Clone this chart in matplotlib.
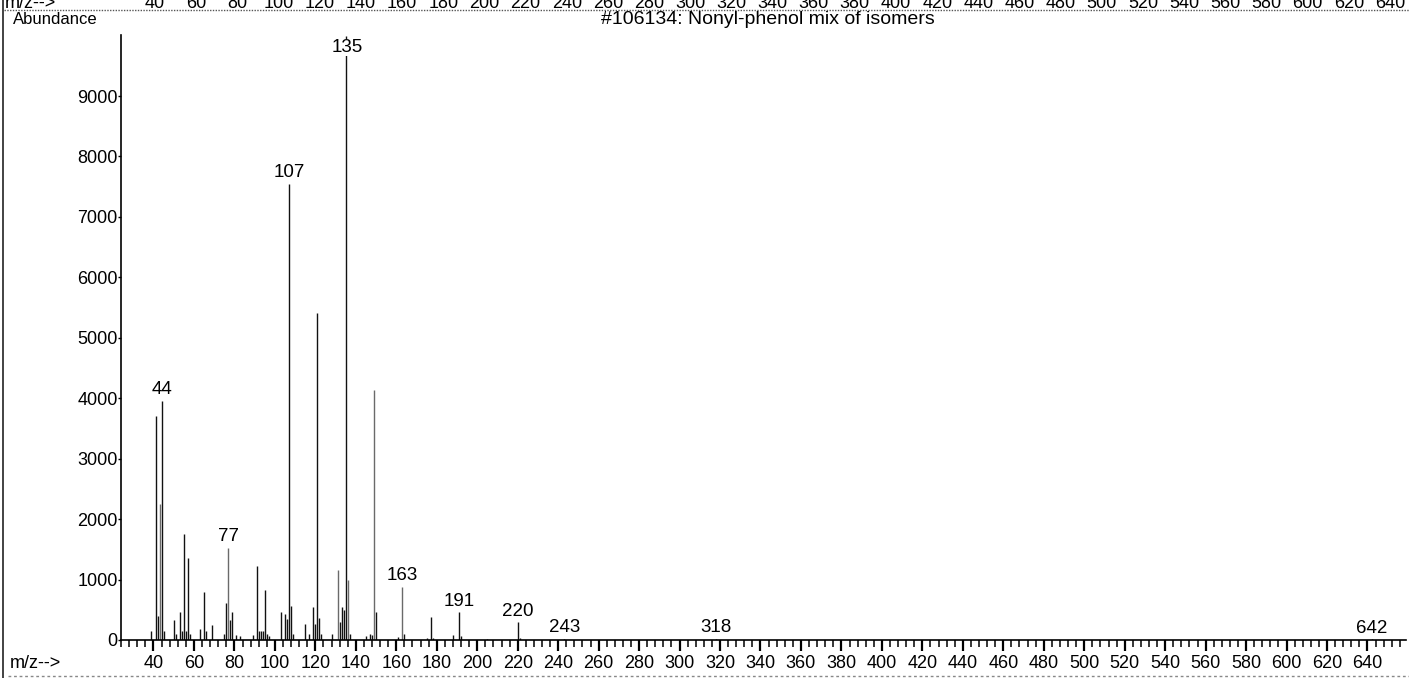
import matplotlib
matplotlib.use('Agg')
import matplotlib.pyplot as plt
from matplotlib.ticker import MultipleLocator, FixedLocator

plt.rcParams['font.family'] = ['Liberation Sans', 'DejaVu Sans']

# ---------------- data ----------------
title = "#106134: Nonyl-phenol mix of isomers"
y_label = "Abundance"
x_label = "m/z-->"

mz = [39, 41, 42, 43, 44, 45, 50, 51, 53, 54, 55, 56, 57, 58, 63, 65, 66, 69,
      75, 76, 77, 78, 79, 81, 83, 89, 91, 92, 93, 94, 95, 96, 97, 103, 105,
      106, 107, 108, 109, 115, 117, 119, 120, 121, 122, 123, 128, 131, 132,
      133, 134, 135, 136, 137, 145, 147, 148, 149, 150, 161, 163, 164, 175,
      177, 178, 188, 191, 192, 205, 220, 221, 243, 318, 642]
abundance = [150, 3700, 400, 2250, 3960, 150, 330, 100, 460, 150, 1750, 150,
             1350, 100, 190, 790, 150, 250, 100, 620, 1530, 330, 470, 80, 60,
             80, 1230, 150, 150, 150, 820, 100, 60, 470, 430, 350, 7545, 560,
             100, 270, 100, 540, 260, 5410, 360, 100, 100, 1160, 300, 540, 500,
             9999, 1000, 100, 60, 100, 80, 4140, 470, 50, 880, 100, 30, 375,
             40, 90, 458, 60, 20, 290, 40, 20, 12, 10]
labeled_mz = [44, 77, 107, 135, 163, 191, 220, 243, 318, 642]
grey_mz = [43, 77, 131, 149, 163, 136]

y_ticks = [0, 1000, 2000, 3000, 4000, 5000, 6000, 7000, 8000, 9000]
x_ticks = list(range(40, 641, 20))

# ---------------- figure ----------------
W, H = 1409, 678
fig = plt.figure(figsize=(W / 100, H / 100), dpi=100)
ax = fig.add_axes([121 / W, (H - 640) / H, (1406 - 121) / W, (640 - 35) / H])

blk = [(m, a) for m, a in zip(mz, abundance) if m not in grey_mz]
gry = [(m, a) for m, a in zip(mz, abundance) if m in grey_mz]
ax.vlines([m for m, _ in blk], 0, [a for _, a in blk], colors='#111111', lw=1.0)
ax.vlines([m for m, _ in gry], 0, [a for _, a in gry], colors='#6a6a6a', lw=1.0)

ax.set_xlim(23.94, 659.03)
ax.set_ylim(0, 10010)
for s in ('top', 'right'):
    ax.spines[s].set_visible(False)
ax.spines['left'].set_linewidth(1.2)
ax.spines['bottom'].set_linewidth(1.2)

ax.xaxis.set_major_locator(FixedLocator(x_ticks))
ax.xaxis.set_minor_locator(MultipleLocator(4))
ax.set_xticklabels([str(v) for v in x_ticks])
ax.set_yticks(y_ticks)
ax.set_yticklabels([str(v) for v in y_ticks])
ax.tick_params(axis='x', which='major', length=8, width=1.6, labelsize=13,
               pad=3, direction='out')
ax.tick_params(axis='x', which='minor', length=5, width=1.1, direction='out')
ax.tick_params(axis='y', which='major', length=2.5, width=1, labelsize=13, pad=0)

ymax = ax.get_ylim()[1]
for m in labeled_mz:
    h = abundance[mz.index(m)]
    if h > 0.93 * ymax:
        ax.annotate(str(m), (m, ymax), xytext=(1, -3), textcoords='offset points',
                    ha='center', va='top', fontsize=13.5,
                    bbox=dict(fc='white', ec='none', pad=0), annotation_clip=False)
    else:
        ax.annotate(str(m), (m, h), xytext=(0, 2), textcoords='offset points',
                    ha='center', va='bottom', fontsize=13.5,
                    bbox=dict(fc='white', ec='none', pad=0), annotation_clip=False)

# header / decoration
fig.text(13 / W, 1 - 20 / H, y_label, ha='left', va='center', fontsize=12)
fig.text(768 / W, 1 - 20 / H, title, ha='center', va='center', fontsize=14)
fig.text(10 / W, 1 - 663 / H, x_label, ha='left', va='center', fontsize=13)

# clipped duplicate scale row at the very top
fig.text(5 / W, 1 - 8 / H, x_label, ha='left', va='baseline', fontsize=13)
for i, v in enumerate(x_ticks):
    fig.text((155 + i * 41.17) / W, 1 - 8 / H, str(v), ha='center',
             va='baseline', fontsize=13)

fig.add_artist(plt.Line2D([4 / W, 1], [1 - 10 / H, 1 - 10 / H], transform=fig.transFigure,
                          color='#555555', lw=1, ls=(0, (1, 1))))
fig.add_artist(plt.Line2D([8 / W, 1], [1 - 676 / H, 1 - 676 / H], transform=fig.transFigure,
                          color='#888888', lw=1, ls=(0, (2, 2))))
fig.add_artist(plt.Line2D([3 / W, 3 / W], [0, 1], transform=fig.transFigure,
                          color='#222222', lw=1.2))

fig.savefig('out.png', dpi=100)
